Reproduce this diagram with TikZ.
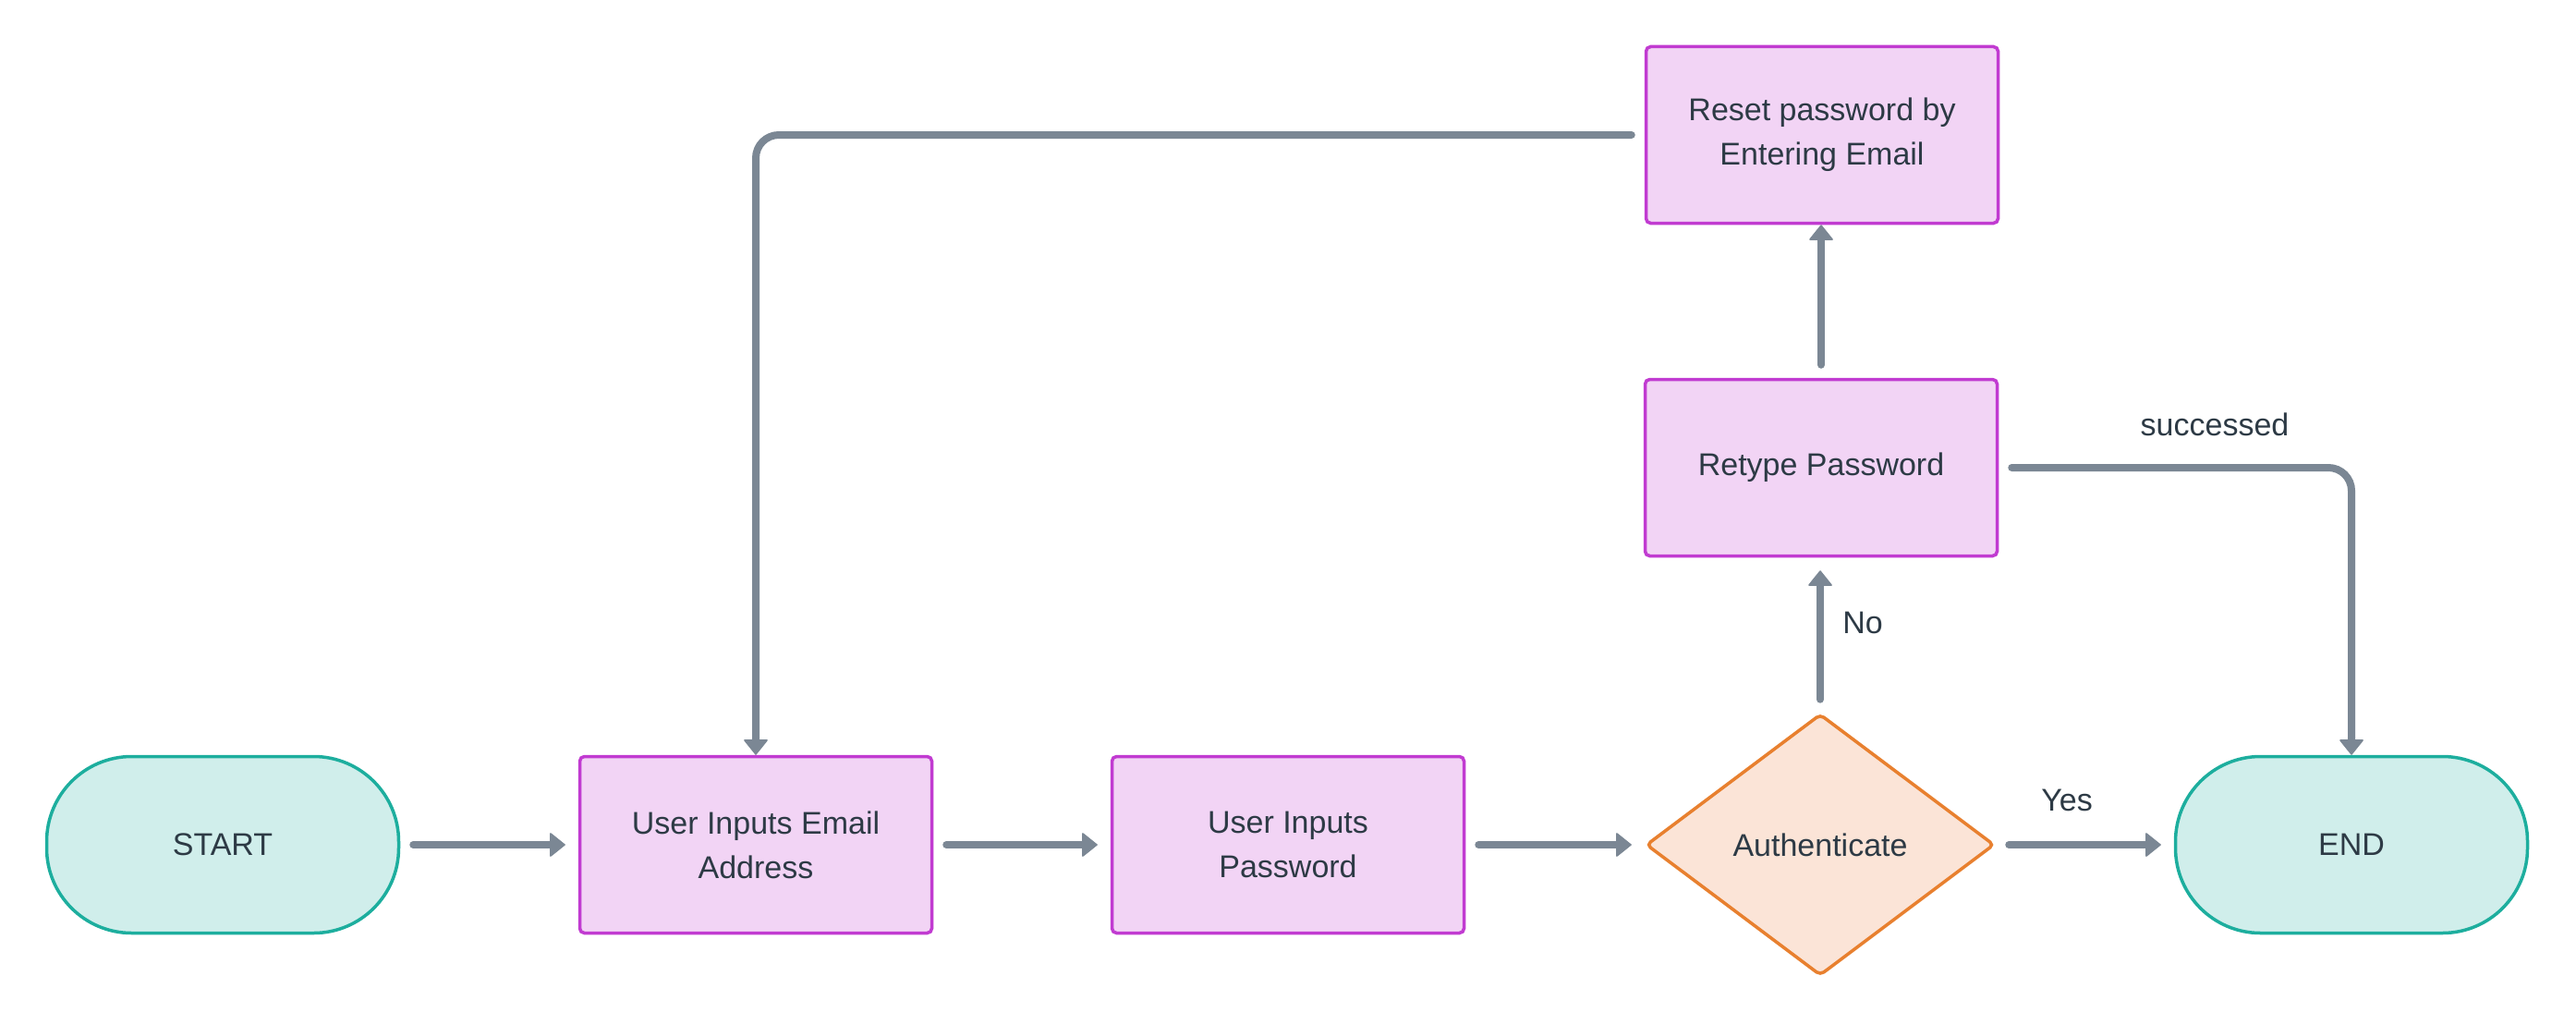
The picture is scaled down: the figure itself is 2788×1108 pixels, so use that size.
\documentclass[tikz,border=0pt]{standalone}
\usepackage{fontspec}
\setmainfont{Liberation Sans}
\usetikzlibrary{shapes.geometric,arrows.meta,positioning}
\definecolor{linec}{HTML}{7B8794}
\definecolor{txtc}{HTML}{2D3A45}
\definecolor{boxfill}{HTML}{F2D4F5}
\definecolor{boxdraw}{HTML}{C13BD1}
\definecolor{termfill}{HTML}{D0EEEB}
\definecolor{termdraw}{HTML}{1DAE9E}
\definecolor{decfill}{HTML}{FBE4D7}
\definecolor{decdraw}{HTML}{E8802F}
\tikzset{
  base/.style={font=\fontsize{34}{48}\selectfont, text=txtc, align=center, line width=3.5pt, inner sep=0pt},
  procbox/.style={base, draw=boxdraw, fill=boxfill, rounded corners=5pt, minimum width=381pt, minimum height=191pt},
  termbox/.style={base, draw=termdraw, fill=termfill, rounded corners=92pt, minimum width=381pt, minimum height=191pt},
  decbox/.style={base, diamond, draw=decdraw, fill=decfill, rounded corners=5pt, minimum width=377pt, minimum height=283pt},
  arr/.style={draw=linec, line width=8pt, line cap=round, -{Triangle[length=17pt,width=27pt,line width=1.5pt,round]}},
  lbl/.style={font=\fontsize{34}{48}\selectfont, text=txtc, inner sep=0pt}
}
\begin{document}
\begin{tikzpicture}[x=1pt,y=-1pt]
\useasboundingbox (0,0) rectangle (2788,1108);
\node[termbox] (start) at (241,914) {START};
\node[procbox] (email) at (818,914) {User Inputs Email\\Address};
\node[procbox] (pass) at (1394,914) {User Inputs\\Password};
\node[decbox] (auth) at (1970,914) {Authenticate};
\node[termbox] (end) at (2545,914) {END};
\node[procbox] (retype) at (1971,506) {Retype Password};
\node[procbox] (reset) at (1972,146) {Reset password by\\Entering Email};

\draw[arr, shorten <=14pt, shorten >=14pt] (start) -- (email);
\draw[arr, shorten <=14pt, shorten >=14pt] (email) -- (pass);
\draw[arr, shorten <=14pt, shorten >=14pt] (pass) -- (auth);
\draw[arr, shorten <=14pt, shorten >=14pt] (auth) -- (end);
\draw[arr, shorten <=14pt, shorten >=14pt] (auth) -- (auth |- retype.south);
\draw[arr, shorten <=14pt] (retype) -- (retype |- reset.south);
\draw[arr, rounded corners=25pt, shorten <=14pt] (retype.east) -| (end.north);
\draw[arr, rounded corners=25pt, shorten <=14pt] (reset.west) -| (email.north);

\node[lbl] (yes) at (2237,866) {Yes};
\node[lbl] (no) at (2016,674) {No};
\node[lbl] (succ) at (2397,459) {successed};
\end{tikzpicture}
\end{document}
